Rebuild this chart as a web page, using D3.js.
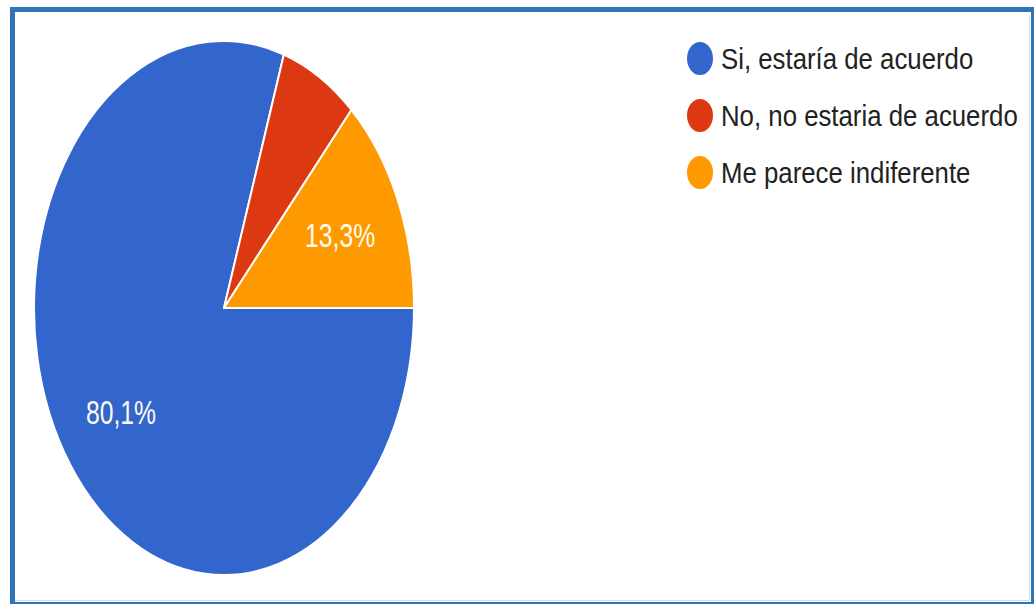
<!DOCTYPE html>
<html>
<head>
<meta charset="utf-8">
<script src="https://cdn.jsdelivr.net/npm/d3@7/dist/d3.min.js"></script>
<style>
  html, body { margin: 0; padding: 0; background: #ffffff; }
  svg { display: block; }
</style>
</head>
<body>
<svg id="chart" width="1034" height="604"></svg>
<script>
// Survey answers and their shares (%)
const categories = ["Si, estaría de acuerdo", "No, no estaria de acuerdo", "Me parece indiferente"];
const values = [80.1, 6.6, 13.3];
const colors = ["#3366cc", "#dc3912", "#ff9900"];

const svg = d3.select("#chart");

// Outer frame
svg.append("rect")
  .attr("x", 12.5).attr("y", 9.5)
  .attr("width", 1021).attr("height", 595)
  .attr("fill", "#ffffff")
  .attr("stroke", "#2e75b6")
  .attr("stroke-width", 5);
// faint inner edge of the frame on the right and bottom
svg.append("path")
  .attr("d", "M1029.5,15 V600.5 H15")
  .attr("fill", "none")
  .attr("stroke", "#cfdcec")
  .attr("stroke-width", 1);

// Pie geometry (drawn as a circle, stretched vertically)
const cx = 224, cy = 308, rx = 190, ry = 267;
const sy = ry / rx;
const fontFamily = "'Liberation Sans', Arial, sans-serif";

const data = categories.map((c, i) => ({ name: c, value: values[i], color: colors[i] }));

const pie = d3.pie()
  .value(d => d.value)
  .sort(null)
  .startAngle(Math.PI / 2)
  .endAngle(Math.PI / 2 + 2 * Math.PI);

const arc = d3.arc().innerRadius(0).outerRadius(rx);
const labelArc = d3.arc().innerRadius(127).outerRadius(127);

const arcs = pie(data);

const g = svg.append("g")
  .attr("transform", `translate(${cx},${cy}) scale(1,${sy})`);

g.selectAll("path.slice")
  .data(arcs)
  .enter().append("path")
  .attr("class", "slice")
  .attr("d", arc)
  .attr("fill", d => d.data.color)
  .attr("stroke", "#ffffff")
  .attr("stroke-width", 2)
  .attr("stroke-linejoin", "round")
  .attr("vector-effect", "non-scaling-stroke");

// Percentage labels (slices of 10% or more)
const fmt = v => d3.format(".1f")(v).replace(".", ",") + "%";
const labelSize = 24.7, labelStretch = 1.34;
arcs.filter(d => d.data.value >= 10).forEach(d => {
  const [lx, ly] = labelArc.centroid(d);
  svg.append("text")
    .attr("transform", `translate(${cx + lx},${cy + ly * sy}) scale(1,${labelStretch})`)
    .attr("text-anchor", "middle")
    .attr("dominant-baseline", "central")
    .attr("font-family", fontFamily)
    .attr("font-size", labelSize)
    .attr("fill", "#fdfbf0")
    .text(fmt(d.data.value));
});

// Legend
const legendX = 700, legendY0 = 58.5, legendStep = 57;
const legendSize = 25.8, legendStretch = 1.17;
const legend = svg.append("g");
data.forEach((d, i) => {
  const y = legendY0 + i * legendStep;
  legend.append("ellipse")
    .attr("cx", legendX).attr("cy", y)
    .attr("rx", 13).attr("ry", 16.5)
    .attr("fill", d.color);
  legend.append("text")
    .attr("transform", `translate(721,${y}) scale(1,${legendStretch})`)
    .attr("dominant-baseline", "central")
    .attr("font-family", fontFamily)
    .attr("font-size", legendSize)
    .attr("fill", "#222222")
    .text(d.name);
});
</script>
</body>
</html>
